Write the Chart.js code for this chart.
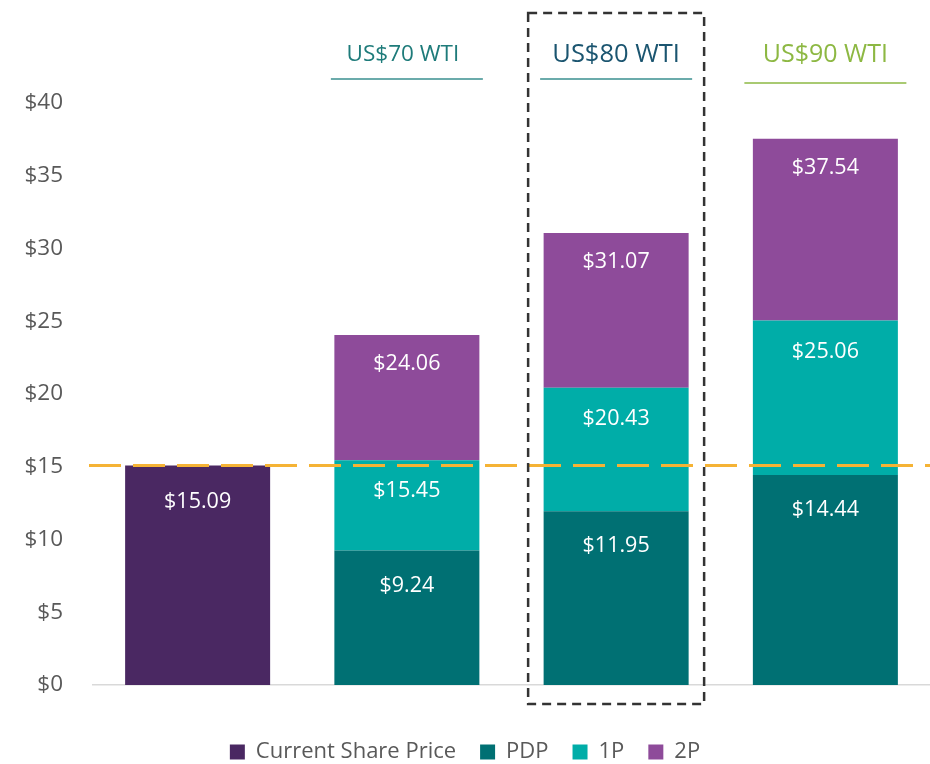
<!DOCTYPE html>
<html>
<head>
<meta charset="utf-8">
<script src="https://cdn.jsdelivr.net/npm/chart.js@4.4.1/dist/chart.umd.min.js"></script>
<style>
  html, body { margin: 0; padding: 0; background: #fff; }
  #wrap { width: 930px; height: 764px; }
</style>
</head>
<body>
<div id="wrap"><canvas id="chart"></canvas></div>
<script>
// categories (blank x labels in the original) and the price deck headers
const categories = ['Current', 'US$70', 'US$80', 'US$90'];
const headers = ['', 'US$70 WTI', 'US$80 WTI', 'US$90 WTI'];
const headerColors = ['', '#1e7b7a', '#1b5570', '#8db843'];
const headerSizes = [0, 22.5, 25.5, 25];

// cumulative values as shown in the labels
const sharePrice = [15.09, null, null, null];
const pdp = [null, 9.24, 11.95, 14.44];
const onePTotal = [null, 15.45, 20.43, 25.06];
const twoPTotal = [null, 24.06, 31.07, 37.54];
const yTicks = [0, 5, 10, 15, 20, 25, 30, 35, 40];

const FONT = '"Open Sans", "Noto Sans", sans-serif';

// stacked bars need the increments
const onePStep = onePTotal.map((v, i) => v == null ? null : +(v - pdp[i]).toFixed(2));
const twoPStep = twoPTotal.map((v, i) => v == null ? null : +(v - onePTotal[i]).toFixed(2));
const labelSets = [sharePrice, pdp, onePTotal, twoPTotal];
const labelOffsets = [36, 35, 31, 29];

const overlay = {
  id: 'overlay',
  afterDatasetsDraw(chart) {
    const c = chart.ctx;
    const x = chart.scales.x, y = chart.scales.y, area = chart.chartArea;

    // value labels near the top of each segment
    c.save();
    c.fillStyle = '#ffffff';
    c.font = '21.5px ' + FONT;
    c.textAlign = 'center';
    c.textBaseline = 'middle';
    chart.data.datasets.forEach((ds, di) => {
      chart.getDatasetMeta(di).data.forEach((bar, i) => {
        const v = labelSets[di][i];
        if (v == null) return;
        c.fillText('$' + v.toFixed(2), bar.x, bar.y + labelOffsets[di]);
      });
    });
    c.restore();

    // share price reference line
    const yp = y.getPixelForValue(sharePrice[0]);
    c.save();
    c.strokeStyle = '#f5b335';
    c.lineWidth = 3;
    c.setLineDash([32, 12]);
    c.beginPath();
    c.moveTo(area.left - 4, yp);
    c.lineTo(area.right, yp);
    c.stroke();
    c.restore();

    // headers with underline
    c.save();
    c.textAlign = 'center';
    c.textBaseline = 'middle';
    headers.forEach((h, i) => {
      if (!h) return;
      const cx = x.getPixelForValue(i);
      c.font = headerSizes[i] + 'px ' + FONT;
      c.fillStyle = headerColors[i];
      c.fillText(h, cx - (i === 1 ? 4 : 0), 55);
      c.strokeStyle = i === 3 ? '#8db843' : '#3a8f8f';
      c.lineWidth = 1.5;
      c.beginPath();
      const uy = i === 3 ? 83 : 79;
      const hw = i === 3 ? 81 : 76;
      c.moveTo(cx - hw, uy);
      c.lineTo(cx + hw, uy);
      c.stroke();
    });
    c.restore();

    // dashed box around the base case
    const bx = x.getPixelForValue(2);
    c.save();
    c.strokeStyle = '#333333';
    c.lineWidth = 2.5;
    c.setLineDash([9, 6]);
    c.strokeRect(bx - 88, 13, 176, area.bottom + 19 - 13);
    c.restore();
  }
};

new Chart(document.getElementById('chart'), {
  type: 'bar',
  data: {
    labels: categories,
    datasets: [
      { label: 'Current Share Price', data: sharePrice, backgroundColor: '#4a2862' },
      { label: 'PDP', data: pdp, backgroundColor: '#007073' },
      { label: '1P', data: onePStep, backgroundColor: '#00ada8' },
      { label: '2P', data: twoPStep, backgroundColor: '#8e4b9a' }
    ]
  },
  options: {
    responsive: true,
    maintainAspectRatio: false,
    animation: false,
    layout: { padding: { top: 103, left: 0, right: 0, bottom: -9 } },
    datasets: { bar: { barPercentage: 1, categoryPercentage: 0.693, skipNull: false } },
    scales: {
      x: {
        stacked: true,
        grid: { display: false },
        border: { display: true, color: '#d9d9d9', width: 1.5 },
        ticks: { display: false },
        afterFit(s) { s.height = 32; }
      },
      y: {
        stacked: true,
        min: 0,
        max: 40,
        afterBuildTicks(s) { s.ticks = yTicks.map(v => ({ value: v })); },
        grid: { display: false },
        border: { display: false },
        ticks: {
          padding: 22,
          color: '#595959',
          font: { family: FONT, size: 22.5 },
          callback: v => '$' + v
        },
        afterFit(s) { s.width = 93; }
      }
    },
    plugins: {
      legend: {
        position: 'bottom',
        labels: {
          boxWidth: 15,
          boxHeight: 15,
          padding: 24,
          color: '#595959',
          font: { family: FONT, size: 22 }
        }
      },
      tooltip: { enabled: false }
    }
  },
  plugins: [overlay]
});
</script>
</body>
</html>
